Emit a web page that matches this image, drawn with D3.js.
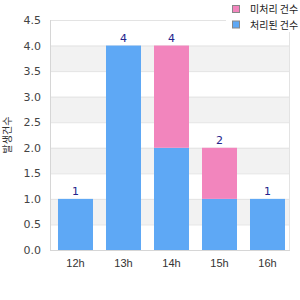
<!DOCTYPE html>
<html><head><meta charset="utf-8">
<script src="https://cdn.jsdelivr.net/npm/d3@7"></script>
<style>body{margin:0;background:#fff}svg{display:block}</style>
</head><body>
<script>
const categories = ["12h","13h","14h","15h","16h"];
const doneValues = [1,4,2,1,1];      // blue (bottom)
const pendingValues = [0,0,2,1,0];   // pink (top)
const seriesNames = ["미처리 건수","처리된 건수"];
const yTicks = [0,0.5,1,1.5,2,2.5,3,3.5,4,4.5];
const yLabel = "발생건수";

const W=300,H=300, L=50,R=290,T=20,B=250;
const blue="#5ea8f5", pink="#f285bd";
const svg=d3.select("body").append("svg").attr("width",W).attr("height",H);
const x=d3.scaleBand().domain(categories).range([L,R]).paddingInner(13/48).paddingOuter(0.1354).align(0.615);
const y=d3.scaleLinear().domain([0,4.5]).range([B,T]);

// alternating bands
for(let i=0;i<yTicks.length-1;i++){
  if(i%2===1){
    svg.append("rect").attr("x",L).attr("width",R-L).attr("y",y(yTicks[i+1])).attr("height",y(yTicks[i])-y(yTicks[i+1])).attr("fill","#f2f2f2");
  }
}
svg.selectAll("line.g").data(yTicks.slice(1)).join("line").attr("x1",L).attr("x2",R)
  .attr("y1",d=>y(d)+0.5).attr("y2",d=>y(d)+0.5).attr("stroke","#e3e3e3");
svg.append("line").attr("x1",L+0.5).attr("x2",L+0.5).attr("y1",T).attr("y2",B+0.5).attr("stroke","#d6d6d6");
svg.append("line").attr("x1",R-0.5).attr("x2",R-0.5).attr("y1",T).attr("y2",B+0.5).attr("stroke","#e3e3e3");
svg.append("line").attr("x1",L).attr("x2",R).attr("y1",B+0.5).attr("y2",B+0.5).attr("stroke","#d6d6d6");

// bars
svg.selectAll("rect.b").data(categories).join("rect").attr("x",d=>x(d)).attr("width",x.bandwidth())
  .attr("y",(d,i)=>y(doneValues[i])).attr("height",(d,i)=>y(0)-y(doneValues[i])).attr("fill",blue);
svg.selectAll("rect.p").data(categories).join("rect").attr("x",d=>x(d)).attr("width",x.bandwidth())
  .attr("y",(d,i)=>y(doneValues[i]+pendingValues[i])).attr("height",(d,i)=>y(doneValues[i])-y(doneValues[i]+pendingValues[i])).attr("fill",pink);

// value labels
svg.selectAll("text.v").data(categories).join("text").attr("x",d=>x(d)+x.bandwidth()/2)
  .attr("y",(d,i)=>y(doneValues[i]+pendingValues[i])-4).attr("text-anchor","middle")
  .attr("font-family","DejaVu Sans, sans-serif").attr("font-size",11).attr("fill","#24248c")
  .text((d,i)=>doneValues[i]+pendingValues[i]);

// y axis
const ya=svg.append("g").attr("transform",`translate(${L},0)`)
  .call(d3.axisLeft(y).tickValues(yTicks).tickFormat(d3.format(".1f")).tickSize(0).tickPadding(9));
ya.select(".domain").remove();
ya.selectAll("text").attr("font-family","DejaVu Sans, sans-serif").attr("font-size",11).attr("fill","#444");

// x axis
const xa=svg.append("g").attr("transform",`translate(0,${B})`).call(d3.axisBottom(x).tickSize(0).tickPadding(9));
xa.select(".domain").remove();
xa.selectAll("text").attr("font-family","Liberation Sans, Arial, sans-serif").attr("font-size",11).attr("fill","#333");

// y label
svg.append("text").attr("transform",`translate(11,${(T+B)/2}) rotate(-90)`).attr("text-anchor","middle")
  .attr("font-family","Noto Sans CJK KR, sans-serif").attr("font-size",10).attr("fill","#333").text(yLabel);

// legend
svg.append("rect").attr("x",226).attr("y",0).attr("width",74).attr("height",32).attr("fill","#fff");
const colors=[pink,blue];
seriesNames.forEach((n,i)=>{
  svg.append("rect").attr("x",232.5).attr("y",5.5+i*15.5).attr("width",7).attr("height",7).attr("fill",colors[i]).attr("stroke","#888");
  svg.append("text").attr("x",250).attr("y",13+i*15.5).attr("font-family","Noto Sans CJK KR, sans-serif").attr("font-size",10).attr("fill","#222").text(n);
});
</script>
</body></html>
